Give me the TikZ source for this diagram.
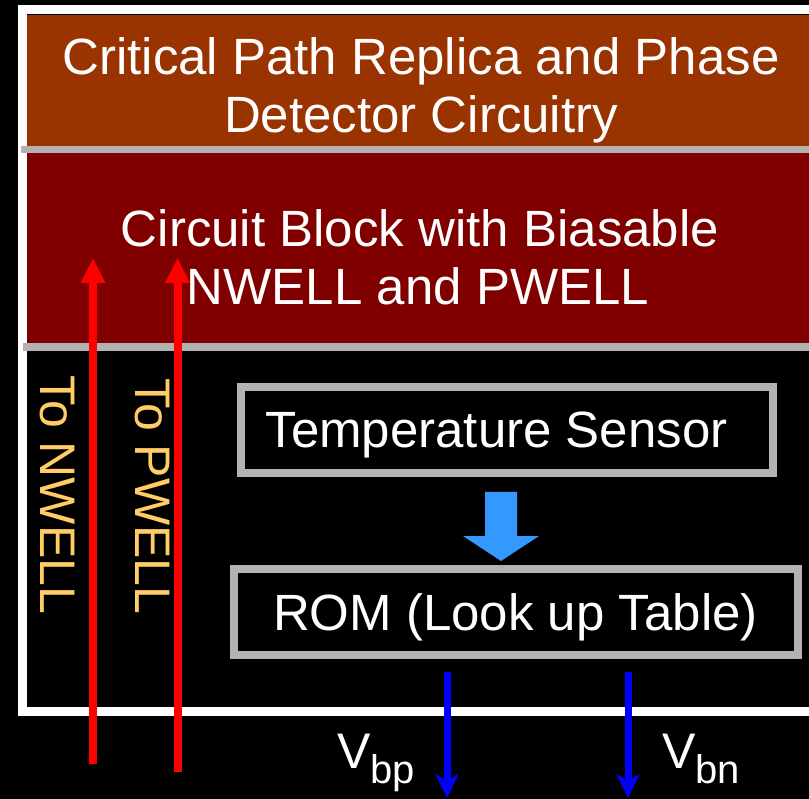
\documentclass[tikz,border=0pt]{standalone}
\usepackage{fontspec}
\setmainfont{Liberation Sans}
\usetikzlibrary{arrows.meta}
\definecolor{bandbrown}{HTML}{993300}
\definecolor{banddark}{HTML}{800000}
\definecolor{rulegray}{HTML}{B2B2B2}
\definecolor{welltext}{HTML}{FFCC66}
\definecolor{fatblue}{HTML}{3399FF}
\begin{document}
\begin{tikzpicture}[x=1pt,y=-1pt,
  big/.style={text=white, font=\fontsize{51}{60}\selectfont, inner sep=0pt, anchor=base},
  well/.style={text=welltext, font=\fontsize{50}{60}\selectfont, inner sep=0pt, rotate=-90, anchor=base west},
  vlab/.style={text=white, font=\fontsize{50}{60}\selectfont, inner sep=0pt, anchor=base west},
  grayframe/.style={draw=rulegray, line width=8pt, fill=black, inner sep=0pt},
  redarrow/.style={draw=red, line width=8pt, -{Triangle[width=23pt,length=25pt]}},
  bluearrow/.style={draw=blue, line width=7pt, -{Stealth[width=23pt,length=24pt,inset=7pt]}},
]
\fill[black] (0,0) rectangle (809,799);
\useasboundingbox (0,0) rectangle (809,799);
\begin{scope}
  \clip (0,0) rectangle (809,799);
  \draw[white, line width=9pt] (840,10) -- (22.5,10) -- (22.5,711) -- (840,711);
  \fill[bandbrown] (27,15) rectangle (840,146);
  \fill[banddark] (27,153) rectangle (840,343);
  \draw[rulegray, line width=7pt] (21,149.5) -- (840,149.5);
  \draw[rulegray, line width=8pt] (23,347.5) -- (840,347.5);
\end{scope}

% band texts
\node[big] (crit1) at (421,75) {Critical Path Replica and Phase};
\node[big] (crit2) at (421,133) {Detector Circuitry};
\node[big] (blk1) at (420,247) {Circuit Block with Biasable};
\node[big] (blk2) at (418,305) {NWELL and PWELL};

% boxes
\node[grayframe, minimum width=532pt, minimum height=86pt] (temp) at (507,430) {};
\node[big] (templbl) at (496.5,448) {Temperature Sensor};
\node[grayframe, minimum width=563.5pt, minimum height=85.5pt] (rom) at (515.75,611.75) {};
\node[big] (romlbl) at (515.5,630) {ROM (Look up Table)};

% fat arrow
\coordinate (fattop) at (501,492);
\coordinate (fattip) at (501,561);
\fill[fatblue] (485,492) -- (517,492) -- (517,536) -- (539,536) -- (fattip) -- (463,536) -- (485,536) -- cycle;

% well labels
\node[well] (tonwell) at (40,375) {To NWELL};
\node[well] (topwell) at (135,378) {To PWELL};

% red arrows
\coordinate (nbot) at (93,764);
\coordinate (ntop) at (93,258);
\coordinate (pbot) at (177.5,772);
\coordinate (ptop) at (177.5,258);
\draw[redarrow] (nbot) -- (ntop);
\draw[redarrow] (pbot) -- (ptop);

% blue arrows
\coordinate (bps) at (447,672);
\coordinate (bpe) at (447,798);
\coordinate (bns) at (628,672);
\coordinate (bne) at (628,798);
\draw[bluearrow] (bps) -- (bpe);
\draw[bluearrow] (bns) -- (bne);

% voltage labels
\node[vlab] (vbp) at (337,768) {V\raisebox{-15pt}{\fontsize{40}{44}\selectfont bp}};
\node[vlab] (vbn) at (662,768) {V\raisebox{-15pt}{\fontsize{40}{44}\selectfont bn}};
\end{tikzpicture}
\end{document}
